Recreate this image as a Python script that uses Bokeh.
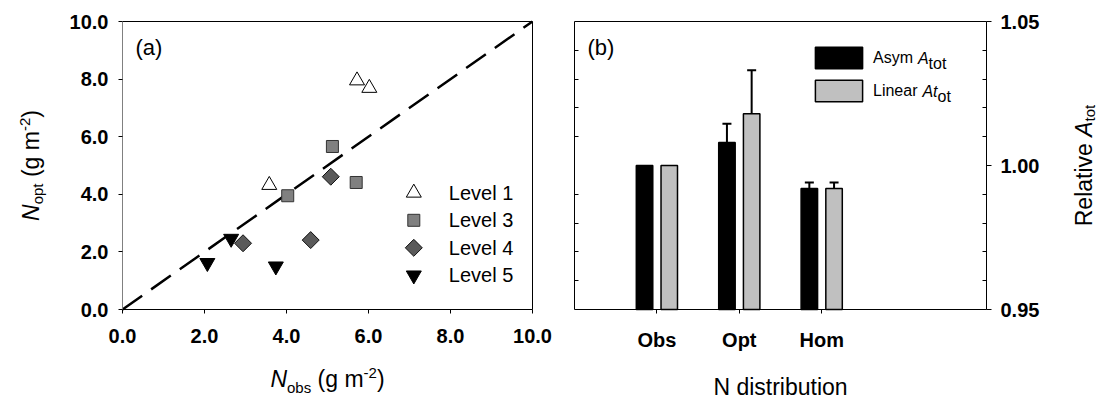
from math import pi
from bokeh.plotting import figure
from bokeh.layouts import row
from bokeh.models import (Range1d, LinearAxis, FixedTicker, PrintfTickFormatter, Label,
                          Legend, LegendItem, ColumnDataSource, Whisker, TeeHead)
from bokeh.embed import file_html
from bokeh.resources import INLINE

FONT = "Liberation Sans"

# ---------------- Panel (a) data ----------------
level1_x = [5.72, 6.02, 3.58]
level1_y = [7.95, 7.69, 4.32]
level3_x = [5.12, 4.03, 5.70]
level3_y = [5.66, 3.95, 4.41]
level4_x = [5.08, 2.94, 4.59]
level4_y = [4.61, 2.30, 2.41]
level5_x = [2.07, 2.65, 3.74]
level5_y = [1.62, 2.46, 1.50]
ref_line = [0.0, 10.0]
a_ticks = [0, 2, 4, 6, 8, 10]
level_labels = ["Level 1", "Level 3", "Level 4", "Level 5"]

# ---------------- Panel (b) data ----------------
categories = ["Obs", "Opt", "Hom"]
asym_vals = [1.000, 1.008, 0.992]
asym_err = [0.0, 0.0065, 0.0021]
linear_vals = [1.000, 1.018, 0.992]
linear_err = [0.0, 0.0151, 0.0021]
b_major = [0.95, 1.00, 1.05]
b_minor = [0.96, 0.97, 0.98, 0.99, 1.01, 1.02, 1.03, 1.04]
b_series = ["Asym", "Linear"]

# ---------------- layout helpers ----------------
H = 403
BASE_FIX = 0.27  # empirical alphabetic-baseline correction (in em)


class Panel:
    def __init__(self, W, box, xr, yr):
        self.W = W
        self.left, self.right, self.top, self.bottom = box
        self.x0, self.x1 = xr
        self.y0, self.y1 = yr
        self.sx = (self.right - self.left) / (self.x1 - self.x0)
        self.sy = (self.bottom - self.top) / (self.y1 - self.y0)

    def x_range(self):
        return Range1d(self.x0 - self.left / self.sx, self.x1 + (self.W - self.right) / self.sx)

    def y_range(self):
        return Range1d(self.y0 - (H - self.bottom) / self.sy, self.y1 + self.top / self.sy)

    def data(self, px, py):
        return self.x0 + (px - self.left) / self.sx, self.y0 + (self.bottom - py) / self.sy


W = {' ': 278, '(': 333, ')': 333, '-': 333, '.': 278, 'A': 667, 'L': 556, 'N': 722,
     'R': 722, 'a': 556, 'b': 556, 'd': 556, 'e': 556, 'g': 556, 'i': 222, 'l': 222,
     'm': 833, 'n': 556, 'o': 556, 'p': 556, 'r': 333, 's': 500, 't': 278, 'u': 556,
     'v': 500, 'y': 500, '2': 556}


def tw(s, size):
    return sum(W.get(c, 556) for c in s) * size / 1000.0


def compose(p, pan, segs, px, py, align="left", rotated=False, baseline="alphabetic", pre=0.0):
    total = sum(tw(t, s) for t, s, st, d in segs)
    adv = (-total / 2 if align == "center" else 0.0) + pre
    for t, s, st, d in segs:
        lead = len(t) - len(t.lstrip(' '))
        a0 = adv + tw(' ' * lead, s)
        fix = BASE_FIX * s if baseline == "alphabetic" else 0.0
        if rotated:
            cx, cy, ang = px + d - fix, py - a0, pi / 2
        else:
            cx, cy, ang = px + a0, py + d - fix, 0.0
        x, y = pan.data(cx, cy)
        txt = t.strip(' ')
        if txt:
            p.add_layout(Label(x=x, y=y, text=txt, angle=ang, text_font=FONT,
                               text_font_size=f"{s}px", text_font_style=st,
                               text_align="left", text_baseline=baseline,
                               text_color="black"))
        adv += tw(t, s)


def make_axis(loc_val, bounds, ticks, minor=None, fmt=None, **kw):
    ax = LinearAxis(fixed_location=loc_val, bounds=bounds,
                    ticker=FixedTicker(ticks=ticks, minor_ticks=minor or []),
                    major_label_text_font=FONT, major_label_text_font_style="bold",
                    major_label_text_font_size="20px", major_label_text_color="black",
                    axis_line_color="black", major_tick_line_color="black",
                    minor_tick_line_color="black", major_tick_in=0, major_tick_out=4,
                    minor_tick_in=0, minor_tick_out=0)
    if fmt is not None:
        ax.formatter = fmt
    for k, v in kw.items():
        setattr(ax, k, v)
    return ax


# ---------------- Panel (a) ----------------
PA = Panel(552, (122, 532, 21, 309), (0, 10), (0, 10))
p1 = figure(width=PA.W, height=H, x_range=PA.x_range(), y_range=PA.y_range(),
            x_axis_location=None, y_axis_location=None, output_backend="svg",
            toolbar_location=None, min_border_left=0, min_border_right=0,
            min_border_top=0, min_border_bottom=0)
p1.outline_line_color = None
p1.grid.visible = False

p1.add_layout(make_axis(0, (0, 10), a_ticks, fmt=PrintfTickFormatter(format="%.1f"),
                        axis_line_color="#808080", major_label_standoff=10), "left")
p1.add_layout(make_axis(0, (0, 10), a_ticks, fmt=PrintfTickFormatter(format="%.1f"),
                        major_label_standoff=15), "below")
p1.add_layout(make_axis(10, (0, 10), []), "above")
p1.add_layout(make_axis(10, (0, 10), []), "right")

p1.line(ref_line, ref_line, line_color="black", line_width=2.5, line_dash="24 11")

styles = [
    dict(marker="triangle", size=15, fill_color="white", line_color="black", line_width=1),
    dict(marker="square", size=12, fill_color="#808080", line_color="#333333", line_width=1),
    dict(marker="square", size=12, angle=pi / 4, fill_color="#5a5a5a", line_color="#111111",
         line_width=1),
    dict(marker="inverted_triangle", size=15, fill_color="black", line_color="black",
         line_width=1),
]
series_a = [(level1_x, level1_y), (level3_x, level3_y), (level4_x, level4_y),
            (level5_x, level5_y)]
for (xs, ys), st in zip(series_a, styles):
    p1.scatter(xs, ys, **st)

# legend (a): key markers + labels laid out in screen pixels
LEG_A_X, LEG_A_TEXT_X, LEG_A_Y0, LEG_A_DY = 413.3, 448.3, 192.3, 27.5
for i, (lab, st) in enumerate(zip(level_labels, styles)):
    cy = LEG_A_Y0 + i * LEG_A_DY
    kx, ky = PA.data(LEG_A_X, cy)
    p1.scatter([kx], [ky], **st)
    lx, ly = PA.data(LEG_A_TEXT_X, cy)
    p1.add_layout(Label(x=lx, y=ly, text=lab, text_font=FONT, text_font_size="20px",
                        text_baseline="middle", text_color="black"))

ax_, ay_ = PA.data(135, 46.5)
p1.add_layout(Label(x=ax_, y=ay_, text="(a)", text_font=FONT, text_font_size="22px",
                    text_baseline="middle", text_color="black"))

compose(p1, PA, [("N", 23, "italic", 0), ("obs", 15, "normal", 6), (" (g m", 23, "normal", 0),
                 ("-2", 15, "normal", -8), (")", 23, "normal", 0)],
        327, 385, align="center")
compose(p1, PA, [("N", 23, "italic", 0), ("opt", 15, "normal", 5), (" (g m", 23, "normal", 0),
                 ("-2", 15, "normal", -8), (")", 23, "normal", 0)],
        36.5, 165, align="center", rotated=True)

# ---------------- Panel (b) ----------------
OFF = 552  # global x of panel (b) canvas
PB = Panel(546, (22, 434, 21, 309), (0, 5), (0.95, 1.05))
p2 = figure(width=PB.W, height=H, x_range=PB.x_range(), y_range=PB.y_range(),
            x_axis_location=None, y_axis_location=None, output_backend="svg",
            toolbar_location=None, min_border_left=0, min_border_right=0,
            min_border_top=0, min_border_bottom=0)
p2.outline_line_color = None
p2.grid.visible = False

cat_x = [i + 1 for i in range(len(categories))]
p2.add_layout(make_axis(0.95, (0, 5), cat_x, major_label_standoff=15,
                        major_label_overrides={v: c for v, c in zip(cat_x, categories)}),
              "below")
p2.add_layout(make_axis(5, (0.95, 1.05), b_major, minor=b_minor,
                        fmt=PrintfTickFormatter(format="%.2f"), major_tick_out=5,
                        minor_tick_in=4, major_label_standoff=9), "right")
p2.add_layout(make_axis(0, (0.95, 1.05), [], minor=b_minor, minor_tick_in=4), "left")
p2.add_layout(make_axis(1.05, (0, 5), []), "above")

base = b_major[0]
asym_x = [v - 0.15 for v in cat_x]
lin_x = [v + 0.15 for v in cat_x]
rb1 = p2.vbar(x=asym_x, top=asym_vals, bottom=base, width=0.2, fill_color="black",
              line_color="black", line_width=1.5)
rb2 = p2.vbar(x=lin_x, top=linear_vals, bottom=base, width=0.2, fill_color="#c0c0c0",
              line_color="black", line_width=1.5)

wx, wl, wu = [], [], []
for xs, vals, errs in ((asym_x, asym_vals, asym_err), (lin_x, linear_vals, linear_err)):
    for xv, v, e in zip(xs, vals, errs):
        if e > 0:
            wx.append(xv)
            wl.append(v)
            wu.append(v + e)
wsrc = ColumnDataSource(dict(x=wx, lower=wl, upper=wu))
p2.add_layout(Whisker(source=wsrc, base="x", lower="lower", upper="upper",
                      dimension="height", line_color="black", line_width=2,
                      upper_head=TeeHead(size=9, line_width=2, line_color="black"),
                      lower_head=None))

LEG_B_LEFT, LEG_B_TOP, GW, GH, GS, STANDOFF = 809 - OFF, 44, 59, 27, 6, 5
legend_b = Legend(items=[LegendItem(label=b_series[0], renderers=[rb1]),
                         LegendItem(label=b_series[1], renderers=[rb2])],
                  location=(LEG_B_LEFT, H - (LEG_B_TOP + 2 * GH + GS)),
                  orientation="vertical",
                  glyph_width=GW, glyph_height=GH, label_height=GH, spacing=GS,
                  label_standoff=STANDOFF, padding=0, margin=0, border_line_color=None,
                  background_fill_alpha=0, label_text_font=FONT,
                  label_text_font_size="16px", label_text_color="black")
p2.add_layout(legend_b)

tx0 = LEG_B_LEFT + GW + STANDOFF
compose(p2, PB, [("A", 16, "italic", 0), ("tot", 16, "normal", 5)],
        tx0, LEG_B_TOP + GH / 2, baseline="middle", pre=tw(b_series[0] + " ", 16))
compose(p2, PB, [("At", 16, "italic", 0), ("ot", 16, "normal", 5)],
        tx0, LEG_B_TOP + GH + GS + GH / 2, baseline="middle", pre=tw(b_series[1] + " ", 16))

bx_, by_ = PB.data(587 - OFF, 46.5)
p2.add_layout(Label(x=bx_, y=by_, text="(b)", text_font=FONT, text_font_size="22px",
                    text_baseline="middle", text_color="black"))

compose(p2, PB, [("N distribution", 23, "normal", 0)], 780 - OFF, 392.5, align="center")
compose(p2, PB, [("Relative ", 23, "normal", 0), ("A", 23, "italic", 0), ("tot", 15, "normal", 3)],
        1090 - OFF, 165, align="center", rotated=True)

layout = row(p1, p2)
open("out.html", "w").write(file_html(layout, INLINE))
